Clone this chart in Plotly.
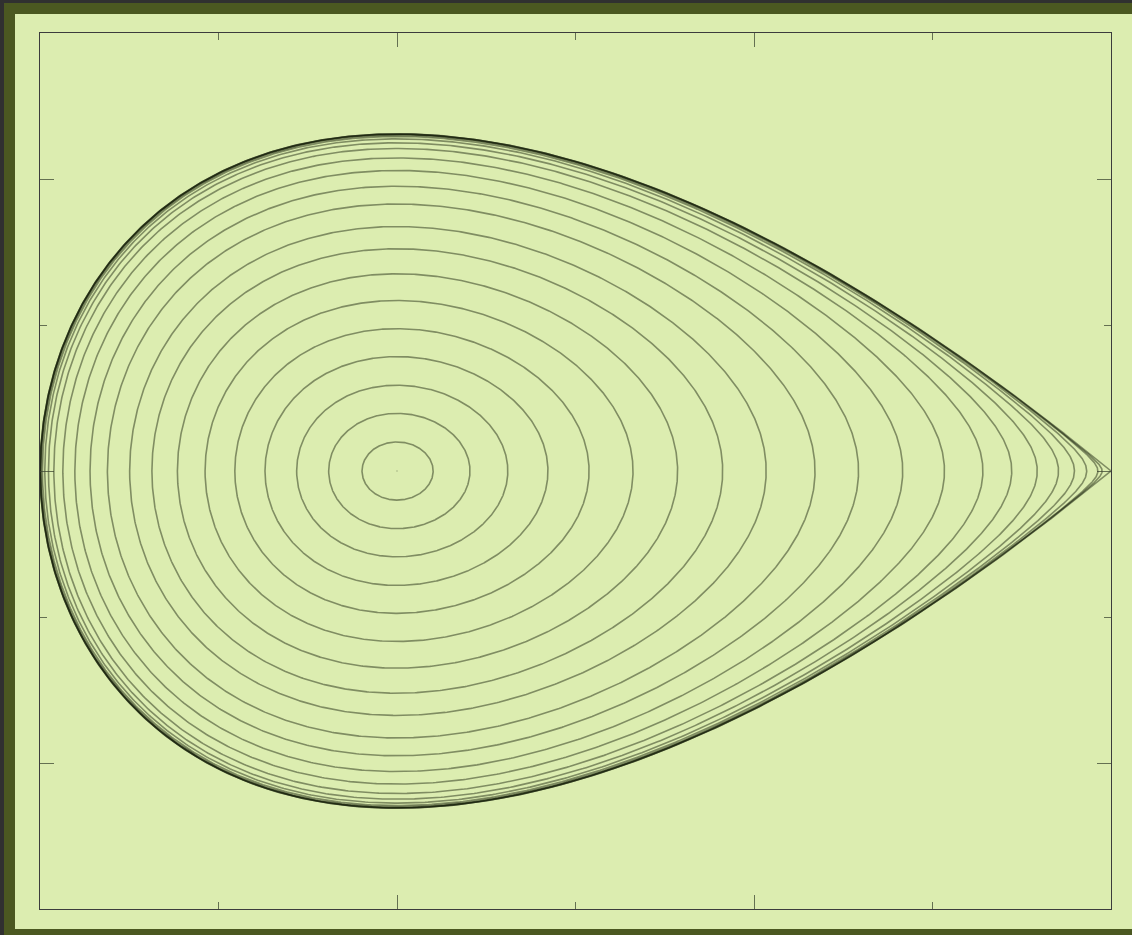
import numpy as np
import plotly.graph_objects as go

# Phase portrait of the cubic oscillator  H(x, p) = p^2/2 + x^2/2 - x^3/3
# Energy of each drawn orbit (the last one is the separatrix, H = 1/6)
energy_levels = [0.00124, 0.00487, 0.0108, 0.0192, 0.0297, 0.0426, 0.0570,
                 0.0724, 0.0876, 0.1045, 0.1189, 0.1324, 0.1437, 0.1525,
                 0.1579, 0.1617, 0.1641, 0.1654, 0.1661, 0.1665, 0.16659,
                 1.0 / 6.0]
x_range = [-0.5, 1.0]
p_range = [-0.75, 0.75]
x_tick_major, x_tick_minor = 0.5, 0.25
p_tick_major, p_tick_minor = 0.5, 0.25

W, H_PX = 1132, 935
ML, MR, MT, MB = 40, 21, 33, 26

BG_LIGHT = "#dcedb0"
BG_OLIVE = "#4b5821"
BG_DARK = "#303030"
LINE_COL = "rgba(15,25,5,0.45)"


def potential(x):
    return x ** 2 / 2.0 - x ** 3 / 3.0


def orbit(E, n=500):
    roots = np.sort(np.real(np.roots([1.0 / 3.0, -0.5, 0.0, E])))
    xl, xr = roots[0], roots[1]
    t = np.linspace(0.0, np.pi, n)
    x = xl + (xr - xl) * (1.0 - np.cos(t)) / 2.0
    p = np.sqrt(np.clip(2.0 * (E - potential(x)), 0.0, None))
    xs = np.concatenate([x, x[::-1]])
    ps = np.concatenate([p, -p[::-1]])
    return xs, ps


fig = go.Figure()
for E in energy_levels:
    xs, ps = orbit(E)
    fig.add_trace(go.Scatter(x=xs, y=ps, mode="lines",
                             line=dict(color=LINE_COL, width=1.6),
                             hoverinfo="skip", showlegend=False))

# stable equilibrium at the origin
fig.add_trace(go.Scatter(x=[0.0], y=[0.0], mode="markers",
                         marker=dict(size=2, color="rgba(0,0,0,0.15)"),
                         hoverinfo="skip", showlegend=False))

plot_w = W - ML - MR
plot_h = H_PX - MT - MB


def px_to_paper_x(px):
    return (px - ML) / plot_w


def px_to_paper_y(py):
    return (H_PX - MB - py) / plot_h


# framed background: dark edge, olive band, light card
fig.add_shape(type="rect", xref="paper", yref="paper", layer="below",
              x0=px_to_paper_x(4), x1=px_to_paper_x(W + 5),
              y0=px_to_paper_y(H_PX + 5), y1=px_to_paper_y(3),
              fillcolor=BG_OLIVE, line=dict(width=0))
fig.add_shape(type="rect", xref="paper", yref="paper", layer="below",
              x0=px_to_paper_x(15), x1=px_to_paper_x(W + 5),
              y0=px_to_paper_y(929), y1=px_to_paper_y(14),
              fillcolor=BG_LIGHT, line=dict(width=0))

axis_common = dict(showgrid=False, zeroline=False, showticklabels=False,
                   showline=True, linecolor="#3c3c3c", linewidth=1,
                   mirror="ticks", ticks="inside", ticklen=14,
                   tickcolor="rgba(60,70,50,0.75)", tickwidth=1)

fig.update_xaxes(range=x_range, tick0=0, dtick=x_tick_major,
                 minor=dict(ticks="inside", ticklen=7, tick0=0,
                            dtick=x_tick_minor,
                            tickcolor="rgba(60,70,50,0.75)"),
                 **axis_common)
fig.update_yaxes(range=p_range, tick0=0, dtick=p_tick_major,
                 minor=dict(ticks="inside", ticklen=7, tick0=0,
                            dtick=p_tick_minor,
                            tickcolor="rgba(60,70,50,0.75)"),
                 **axis_common)

fig.update_layout(width=W, height=H_PX,
                  margin=dict(l=ML, r=MR, t=MT, b=MB),
                  paper_bgcolor=BG_DARK, plot_bgcolor=BG_LIGHT)

fig.write_html("out.html")
